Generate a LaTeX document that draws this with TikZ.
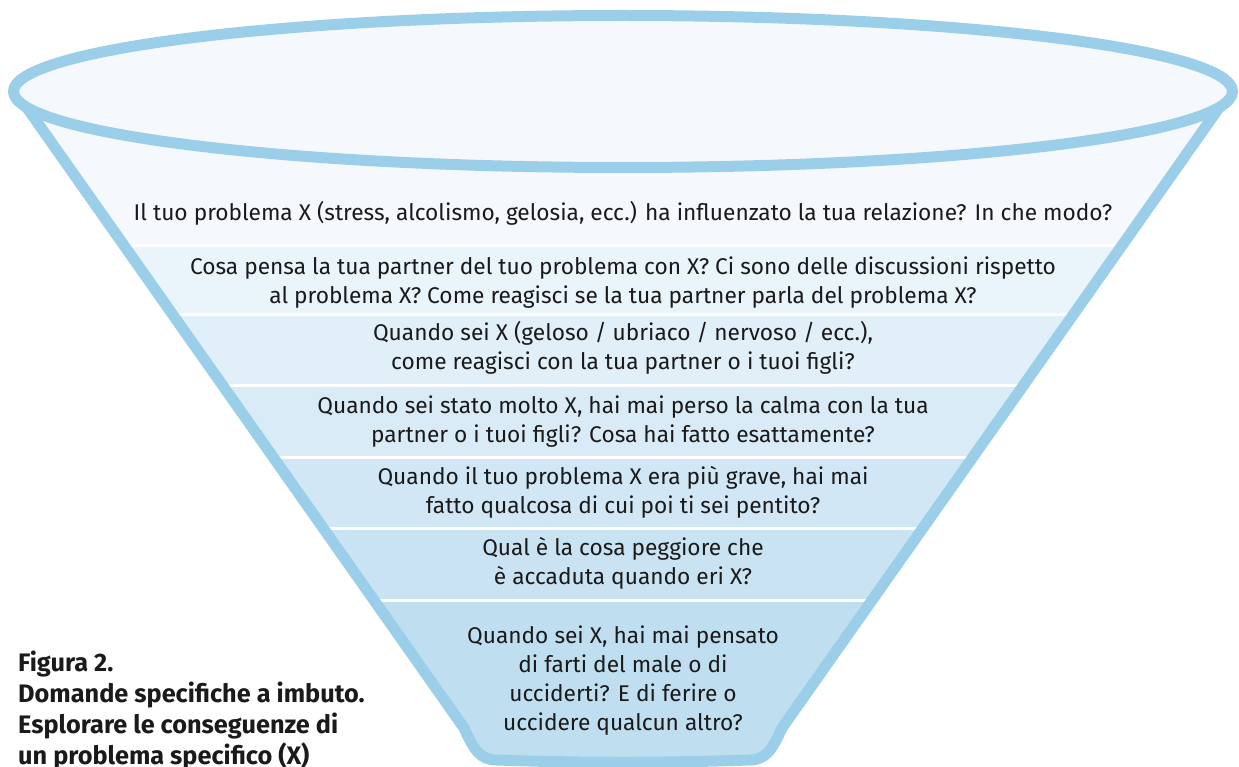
\documentclass[tikz,border=0pt]{standalone}
\usepackage{fontspec}
\setmainfont{Fira Sans}
\definecolor{rim}{HTML}{9BCFE9}
\definecolor{bA}{HTML}{F5F9FD}
\definecolor{bB}{HTML}{E9F4FB}
\definecolor{bC}{HTML}{E1EFF9}
\definecolor{bD}{HTML}{D9EBF7}
\definecolor{bE}{HTML}{D1E7F5}
\definecolor{bF}{HTML}{C9E3F3}
\definecolor{bG}{HTML}{BFDFF1}
\definecolor{ink}{HTML}{1A1A1A}
\tikzset{
  qtext/.style={align=center, text=ink, font=\fontsize{22.7}{29}\selectfont, inner sep=0pt},
  captext/.style={align=left, text=ink, font=\fontsize{25.3}{31}\selectfont\bfseries, inner sep=0pt, anchor=north west},
  sepline/.style={white, line width=3pt},
  rimline/.style={rim, line width=11pt, line join=round}
}
\begin{document}
\begin{tikzpicture}[x=1pt,y=-1pt]
\useasboundingbox (0,0) rectangle (1239,767);
% funnel body
\begin{scope}
  \clip (25,105) -- (464,728) .. controls (474,750) and (480,760) .. (497,760)
        .. controls (580,763) and (666,763) .. (749,760)
        .. controls (766,760) and (772,750) .. (782,728) -- (1221,105) -- cycle;
  \fill[bA] (0,0) rectangle (1239,246);
  \fill[bB] (0,246) rectangle (1239,314);
  \fill[bC] (0,314) rectangle (1239,385);
  \fill[bD] (0,385) rectangle (1239,457);
  \fill[bE] (0,457) rectangle (1239,528);
  \fill[bF] (0,528) rectangle (1239,600);
  \fill[bG] (0,600) rectangle (1239,800);
  \foreach \yy in {246,314,385,457,528,600} \draw[sepline] (0,\yy) -- (1239,\yy);
\end{scope}
\draw[rimline] (25,105) -- (464,728) .. controls (474,750) and (480,760) .. (497,760)
        .. controls (580,763) and (666,763) .. (749,760)
        .. controls (766,760) and (772,750) .. (782,728) -- (1221,105);
\draw[rimline, fill=bA] (623,91.5) ellipse [x radius=609.5, y radius=76];
% questions
\node[qtext] (q1) at (623,213) {Il tuo problema X (stress, alcolismo, gelosia, ecc.) ha influenzato la tua relazione? In che modo?};
\node[qtext] (q2) at (623,282.5) {Cosa pensa la tua partner del tuo problema con X? Ci sono delle discussioni rispetto\\al problema X? Come reagisci se la tua partner parla del problema X?};
\node[qtext] (q3) at (623,347.5) {Quando sei X (geloso / ubriaco / nervoso / ecc.),\\come reagisci con la tua partner o i tuoi figli?};
\node[qtext] (q4) at (623,421.5) {Quando sei stato molto X, hai mai perso la calma con la tua\\partner o i tuoi figli? Cosa hai fatto esattamente?};
\node[qtext] (q5) at (623,492.5) {Quando il tuo problema X era più grave, hai mai\\fatto qualcosa di cui poi ti sei pentito?};
\node[qtext] (q6) at (623,563.5) {Qual è la cosa peggiore che\\è accaduta quando eri X?};
\node[qtext] (q7) at (623,680.5) {Quando sei X, hai mai pensato\\di farti del male o di\\ucciderti? E di ferire o\\uccidere qualcun altro?};
% caption
\node[captext] (cap) at (18,651) {Figura 2.\\Domande specifiche a imbuto.\\Esplorare le conseguenze di\\un problema specifico (X)};
\end{tikzpicture}
\end{document}
